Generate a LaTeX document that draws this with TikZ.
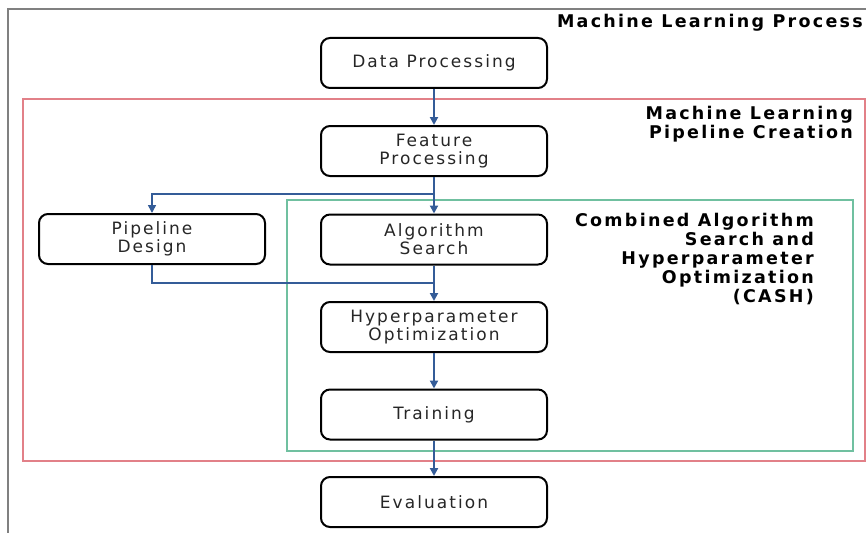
\documentclass[tikz,border=0pt]{standalone}
\usepackage{fontspec}
\setmainfont{DejaVu Sans}[LetterSpace=12, BoldFeatures={LetterSpace=13}]
\usetikzlibrary{arrows.meta}
\definecolor{flowblue}{RGB}{52,92,152}
\definecolor{pipered}{RGB}{226,128,136}
\definecolor{cashgreen}{RGB}{112,192,160}
\definecolor{framegray}{RGB}{128,128,128}
\tikzset{
  stage/.style={draw=black, line width=2pt, rounded corners=9pt,
    minimum width=226pt, minimum height=50pt, align=center, inner sep=0pt,
    font=\fontsize{17}{18}\selectfont, text=black!85},
  flow/.style={draw=flowblue, line width=2pt, -{Triangle[length=8pt,width=8pt]}},
  branch/.style={flow, line width=1.6pt},
  heading/.style={font=\fontsize{17.5}{19}\selectfont\bfseries, align=right,
    inner sep=0pt, text=black},
}
\begin{document}
\begin{tikzpicture}[x=1pt,y=-1pt]
\useasboundingbox (0,0) rectangle (866,532);
% nested frames: whole process, pipeline creation, CASH
\draw[framegray, line width=2pt] (8,540) -- (8,9) -- (875,9);
\draw[pipered, line width=1.5pt] (23,99) rectangle (865,461);
\draw[cashgreen, line width=1.5pt] (287,200) rectangle (853,451);

% frame headings
\node[heading, anchor=base east] (mlp) at (863,28) {Machine Learning Process};
\node[heading, anchor=north east] (mlpc) at (853,106) {Machine Learning\\Pipeline Creation};
\node[heading, anchor=north east] (cash) at (814,213)
  {Combined Algorithm\\Search and\\Hyperparameter\\Optimization\\(CASH)};

% process stages
\node[stage] (data)  at (434,63)    {Data Processing};
\node[stage] (feat)  at (434,151)   {Feature\\Processing};
\node[stage] (pipe)  at (152,239)   {Pipeline\\Design};
\node[stage] (algo)  at (434,239.5) {Algorithm\\Search};
\node[stage] (hyper) at (434,327)   {Hyperparameter\\Optimization};
\node[stage] (train) at (434,414.5) {Training};
\node[stage] (eval)  at (434,502)   {Evaluation};

% flow between stages
\coordinate (split) at (434,194);
\coordinate (join)  at (434,283);
\draw[flow] (data) -- (feat);
\draw[flow] (feat) -- (algo);
\draw[branch] (split) -| (pipe.north);
\draw[flow] (algo) -- (hyper);
\draw[branch, -] (pipe.south) |- (join);
\draw[flow] (hyper) -- (train);
\draw[flow] (train) -- (eval);
\end{tikzpicture}
\end{document}
